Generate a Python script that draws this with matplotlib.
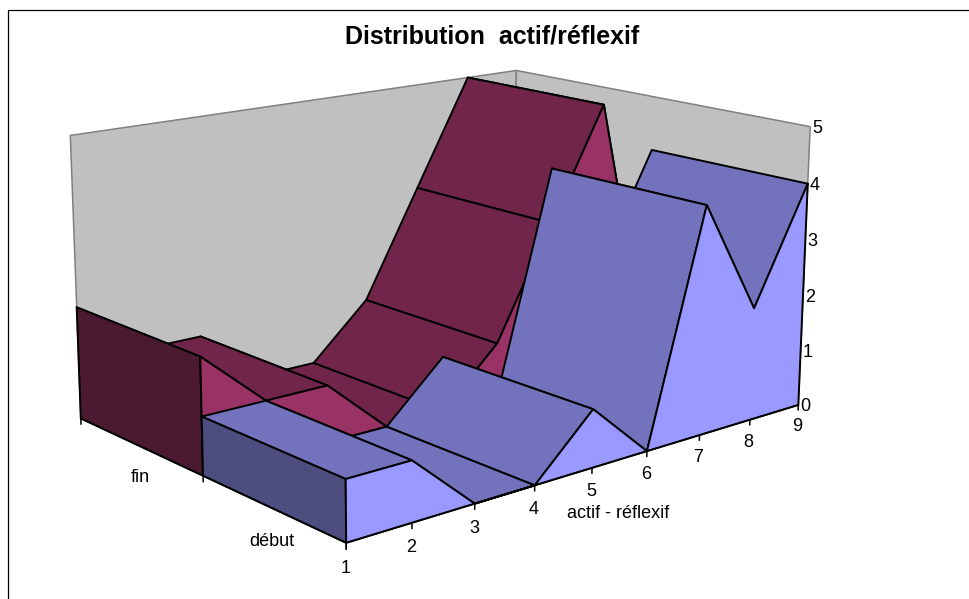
import numpy as np
import matplotlib
matplotlib.use("Agg")
import matplotlib.pyplot as plt
from matplotlib.patches import Polygon

plt.rcParams['font.family'] = ['Liberation Sans', 'DejaVu Sans']

# ---- data ----
categories = [1, 2, 3, 4, 5, 6, 7, 8, 9]
debut = [1, 1, 0, 0, 1, 0, 4, 2, 4]
fin = [2, 1, 1, 0, 0, 1, 3, 5, 0]
z_ticks = [0, 1, 2, 3, 4, 5]
series_names = ['début', 'fin']
title = 'Distribution  actif/réflexif'
x_label = 'actif - réflexif'

# ---- camera: calibration of the Excel-like perspective (x, depth, z) -> pixel ----
anchors = np.array([
    (1,0,0,345,543),(1,0,1,345,478),(2,0,1,411,460),(3,0,0,473,503),(4,0,0,535,484),
    (5,0,1,595,408),(6,0,0,648,451),(7,0,4,706,205),(8,0,2,754,309),(9,0,4,808,184),
    (9,0,0,798,405),(9,0,5,811,127),(1,1,0,202,480),(1,1,1,202,416),(1,1,2,202,358),
    (2,1,1,267,400),(4,1,0,387,427),(5,1,1,443,358),(7,1,4,551,169),(9,1,4,651,151),
    (3,1,1,328,385),(6,1,1,497,344),(8,1,5,605,103),(1,2,0,80,417),(1,2,2,78,308),
    (1,2,5,70,135),(9,2,5,516,71),(3,2,1,200,336),(6,2,1,367,299),(7,2,3,417,188),
    (8,2,5,467,77)], dtype=float)


def fit_camera(a):
    rows = []
    for X, Y, Z, u, v in a:
        p = [X, Y, Z, 1]
        rows.append(p + [0, 0, 0, 0] + [-u * c for c in p])
        rows.append([0, 0, 0, 0] + p + [-v * c for c in p])
    return np.linalg.svd(np.array(rows))[2][-1].reshape(3, 4)


P = fit_camera(anchors)


def proj(x, y, z):
    h = P @ np.array([x, y, z, 1.0])
    return h[0] / h[2], h[1] / h[2]


# ---- figure ----
fig = plt.figure(figsize=(9.70, 5.99), dpi=100, facecolor='white')
ax = fig.add_axes([0, 0, 1, 1])
ax.set_xlim(0, 970)
ax.set_ylim(599, 0)
ax.axis('off')

ax.plot([8.5, 8.5, 970], [599, 9.5, 9.5], color='black', lw=0.9, solid_joinstyle='miter')


def poly(pts3d, fc, ec='black', lw=1.4, z=2):
    ax.add_patch(Polygon([proj(*p) for p in pts3d], closed=True, facecolor=fc,
                         edgecolor=ec, linewidth=lw, zorder=z, joinstyle='round'))


xmin, xmax = categories[0], categories[-1]
zmax = z_ticks[-1]

# walls
poly([(xmin, 2, 0), (xmax, 2, 0), (xmax, 2, zmax), (xmin, 2, zmax)], '#C0C0C0', '#808080', 1.1, 1)
poly([(xmax, 0, 0), (xmax, 2, 0), (xmax, 2, zmax), (xmax, 0, zmax)], '#C0C0C0', '#808080', 1.1, 1)


def draw_series(values, y0, y1, top_c, side_c, front_c, base):
    n = len(categories)
    for i in range(n - 2, -1, -1):
        xa, xb = categories[i], categories[i + 1]
        poly([(xa, y0, values[i]), (xb, y0, values[i + 1]),
              (xb, y1, values[i + 1]), (xa, y1, values[i])], top_c, z=base)
    poly([(xmin, y0, 0), (xmin, y1, 0), (xmin, y1, values[0]), (xmin, y0, values[0])], side_c, z=base + 0.1)
    front = [(xmin, y0, 0)] + [(c, y0, v) for c, v in zip(categories, values)] + [(xmax, y0, 0)]
    poly(front, front_c, z=base + 0.2)


draw_series(fin, 1, 2, '#72254B', '#4C1A30', '#993366', 2)
draw_series(debut, 0, 1, '#7373BD', '#4D4D80', '#9999FF', 3)

# axes lines and ticks
tk = dict(color='black', lw=1.1, zorder=5)
for c in categories:
    a, b = proj(c, 0, 0), proj(c, 0, -0.09)
    ax.plot([a[0], b[0]], [a[1], b[1]], **tk)
a, b = proj(xmin, 0, 0), proj(xmax, 0, 0)
ax.plot([a[0], b[0]], [a[1], b[1]], **tk)
for d in [0, 1, 2]:
    a, b = proj(xmin, d, 0), proj(xmin, d, -0.1)
    ax.plot([a[0], b[0]], [a[1], b[1]], **tk)
a, b = proj(xmin, 0, 0), proj(xmin, 2, 0)
ax.plot([a[0], b[0]], [a[1], b[1]], **tk)

fs = 13
# category labels, placed below the front floor edge
for c in categories:
    u, v = proj(c, 0, -0.39)
    ax.text(u - 0.5, v + 1, str(c), ha='center', va='center', fontsize=fs, color='black', zorder=6)
# value labels, to the right of the z axis
for t in z_ticks:
    u, v = proj(xmax, 0, t)
    ax.text(u + 2, v + 1.5, str(t), ha='left', va='center', fontsize=fs, color='black', zorder=6)
# series labels
for name, d in zip(series_names, [0.5, 1.5]):
    u, v = proj(xmin, d, -0.55)
    ax.text(u, v, name, ha='center', va='center', fontsize=fs, color='black', zorder=6)

ax.text(618, 513, x_label, ha='center', va='center', fontsize=fs, color='black', zorder=6)
ax.text(492.5, 37, title, ha='center', va='center', fontsize=18, fontweight='bold', color='black')

fig.savefig('out.png', dpi=100)
